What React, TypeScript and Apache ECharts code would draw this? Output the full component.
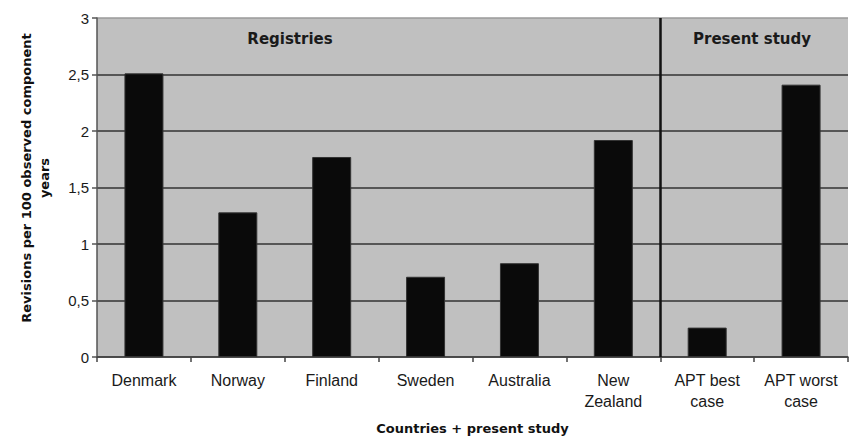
import React, { useEffect, useRef } from "react";
import * as echarts from "echarts";

const categories = ["Denmark", "Norway", "Finland", "Sweden", "Australia", "New\nZealand", "APT best\ncase", "APT worst\ncase"];
const values = [2.51, 1.28, 1.77, 0.71, 0.83, 1.92, 0.26, 2.41];
const groupLabels = ["Registries", "Present study"];
const separatorAfter = 6;
const yTitle = "Revisions per 100 observed component\nyears";
const xTitle = "Countries + present study";

const FONT = "'Liberation Sans', Arial, sans-serif";
const TITLE_FONT = "'DejaVu Sans', Verdana, sans-serif";

export default function App() {
  const ref = useRef<HTMLDivElement>(null);
  useEffect(() => {
    if (!ref.current) return;
    const chart = echarts.init(ref.current, undefined, { renderer: "svg" });
    chart.setOption({
      animation: false,
      backgroundColor: "#ffffff",
      textStyle: { fontFamily: FONT },
      grid: {
        left: 97,
        right: 2,
        top: 18,
        bottom: 78,
        show: true,
        backgroundColor: "#c0c0c0",
        borderWidth: 0,
      },
      xAxis: [
        {
          type: "category",
          data: categories,
          axisLine: { show: true, lineStyle: { color: "#444", width: 1.5 } },
          axisTick: { show: true, length: 5, lineStyle: { color: "#444", width: 1.5 } },
          axisLabel: {
            color: "#1a1a1a",
            fontSize: 16,
            lineHeight: 21,
            margin: 13,
            fontFamily: FONT,
            interval: 0,
          },
          name: xTitle,
          nameLocation: "middle",
          nameGap: 65,
          nameTextStyle: { color: "#111", fontSize: 13, fontWeight: "bold", fontFamily: TITLE_FONT },
        },
        {
          type: "value",
          min: 0,
          max: categories.length,
          show: false,
        },
      ],
      yAxis: {
        type: "value",
        min: 0,
        max: 3,
        interval: 0.5,
        axisLine: { show: true, lineStyle: { color: "#555", width: 1.5 } },
        axisTick: { show: true, length: 5, lineStyle: { color: "#555", width: 1.5 } },
        axisLabel: {
          color: "#1a1a1a",
          fontSize: 15,
          margin: 8,
          fontFamily: FONT,
          formatter: (v: number) => String(v).replace(".", ","),
        },
        splitLine: {
          show: true,
          lineStyle: {
            color: ["#333", "#333", "#333", "#333", "#333", "#333", "#9a9a9a"],
            width: 1.5,
          },
        },
      },
      series: [
        {
          type: "bar",
          data: values,
          barWidth: 39,
          itemStyle: { color: "#0a0a0a", borderColor: "#333", borderWidth: 1 },
          xAxisIndex: 0,
        },
        {
          type: "scatter",
          xAxisIndex: 1,
          data: [],
          markLine: {
            silent: true,
            symbol: "none",
            label: { show: false },
            lineStyle: { color: "#111", width: 2.5, type: "solid" },
            data: [{ xAxis: separatorAfter }],
          },
        },
      ],
      graphic: [
        {
          type: "text",
          x: 290,
          y: 39,
          style: {
            text: groupLabels[0],
            fill: "#1a1a1a",
            font: `bold 15px ${TITLE_FONT}`,
            textAlign: "center",
            textVerticalAlign: "middle",
          },
        },
        {
          type: "text",
          x: 752,
          y: 39,
          style: {
            text: groupLabels[1],
            fill: "#1a1a1a",
            font: `bold 15px ${TITLE_FONT}`,
            textAlign: "center",
            textVerticalAlign: "middle",
          },
        },
        {
          type: "text",
          x: 35,
          y: 178,
          rotation: Math.PI / 2,
          style: {
            text: yTitle,
            fill: "#111",
            font: `bold 13px ${TITLE_FONT}`,
            lineHeight: 18,
            textAlign: "center",
            textVerticalAlign: "middle",
          },
        },
      ],
    });
    return () => chart.dispose();
  }, []);
  return (
    <div
      ref={ref}
      style={{ position: "fixed", left: 0, top: 0, width: 850, height: 440 }}
    />
  );
}
